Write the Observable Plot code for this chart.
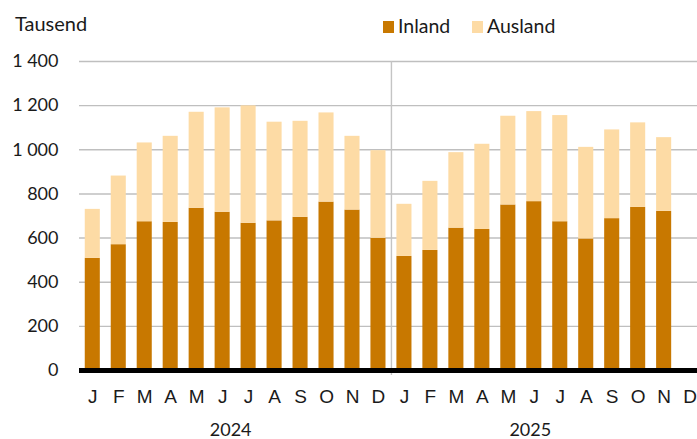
<!DOCTYPE html>
<html>
<head>
<meta charset="utf-8">
<script src="https://cdn.jsdelivr.net/npm/d3@7"></script>
<script src="https://cdn.jsdelivr.net/npm/@observablehq/plot@0.6"></script>
<style>
  html, body { margin: 0; padding: 0; background: #fff; }
  #wrap { position: relative; width: 697px; height: 439px; font-family: Lato, "Noto Sans", sans-serif; color: #1a1a1a; }
  #header { position: relative; width: 697px; height: 48px; }
  #header span { position: absolute; line-height: 20px; }
  .sw { position: absolute; width: 11px; height: 12px; }
</style>
</head>
<body>
<div id="wrap">
  <div id="header">
    <span style="left:15px; top:13px; font-size:20px;">Tausend</span>
    <div class="sw" style="left:383px; top:21px; background:#C87800;"></div>
    <span style="left:398px; top:16px; font-size:19.5px;">Inland</span>
    <div class="sw" style="left:472px; top:21px; background:#FDDBA5;"></div>
    <span style="left:487px; top:16px; font-size:19.5px;">Ausland</span>
  </div>
  <div id="chart"></div>
</div>
<script>
const months = ["J","F","M","A","M","J","J","A","S","O","N","D"];
const years = [2024, 2025];
const inland2024  = [508, 570, 674, 671, 735, 717, 667, 678, 694, 763, 727, 599];
const ausland2024 = [222, 311, 357, 390, 435, 473, 532, 447, 435, 404, 334, 397];
const inland2025  = [517, 544, 645, 639, 750, 765, 674, 596, 688, 739, 721, null];
const ausland2025 = [236, 313, 342, 386, 402, 408, 481, 415, 402, 383, 334, null];
const seriesNames = ["Inland", "Ausland"];
const seriesColors = ["#C87800", "#FDDBA5"];
const yTicks = [0, 200, 400, 600, 800, 1000, 1200, 1400];

const byYear = {2024: [inland2024, ausland2024], 2025: [inland2025, ausland2025]};
const keys = [];
const rows = [];
years.forEach(yr => {
  months.forEach((m, i) => {
    const key = `${yr}-${String(i + 1).padStart(2, "0")}`;
    keys.push(key);
    seriesNames.forEach((s, si) => {
      const v = byYear[yr][si][i];
      if (v != null) rows.push({key, series: s, value: v});
    });
  });
});
const monthOf = k => months[+k.slice(5) - 1];

const fmt = d => d3.format(",")(d).replace(/,/g, " ");

const chart = Plot.plot({
  width: 697,
  height: 391,
  marginLeft: 79,
  marginRight: 0,
  marginTop: 13,
  marginBottom: 69,
  style: {fontFamily: "Lato, 'Noto Sans', sans-serif", fontSize: "18px", color: "#1a1a1a", overflow: "visible"},
  x: {type: "band", domain: keys, range: [79.3, 702.6], paddingInner: 0.42, paddingOuter: 0.21, round: false, axis: null, label: null},
  y: {domain: [0, 1400], axis: null, label: null},
  color: {domain: seriesNames, range: seriesColors},
  marks: [
    Plot.ruleY(yTicks.slice(1), {stroke: "#bfbfbf", strokeWidth: 1.4}),
    Plot.ruleX([keys[12]], {dx: -13, stroke: "#c4c4c4", strokeWidth: 1.4, insetBottom: -5}),
    Plot.barY(rows, Plot.stackY({x: "key", y: "value", fill: "series", order: seriesNames})),
    Plot.ruleY([0], {stroke: "#000", strokeWidth: 5}),
    Plot.axisY({ticks: yTicks, tickSize: 0, tickPadding: 21, tickFormat: fmt, fontSize: 18, fill: "#1a1a1a", label: null}),
    Plot.axisX({tickSize: 0, tickPadding: 19, tickFormat: monthOf, fontSize: 19, fontFamily: "'Liberation Sans', Arial, sans-serif", fill: "#1a1a1a", label: null}),
    Plot.text([String(years[0])], {x: () => `${years[0]}-06`, y: () => 0, text: d => d, dx: 8, dy: 60, fontSize: 18, fill: "#1a1a1a"}),
    Plot.text([String(years[1])], {x: () => `${years[1]}-06`, y: () => 0, text: d => d, dx: -4, dy: 60, fontSize: 18, fill: "#1a1a1a"})
  ]
});
document.getElementById("chart").appendChild(chart);
</script>
</body>
</html>
